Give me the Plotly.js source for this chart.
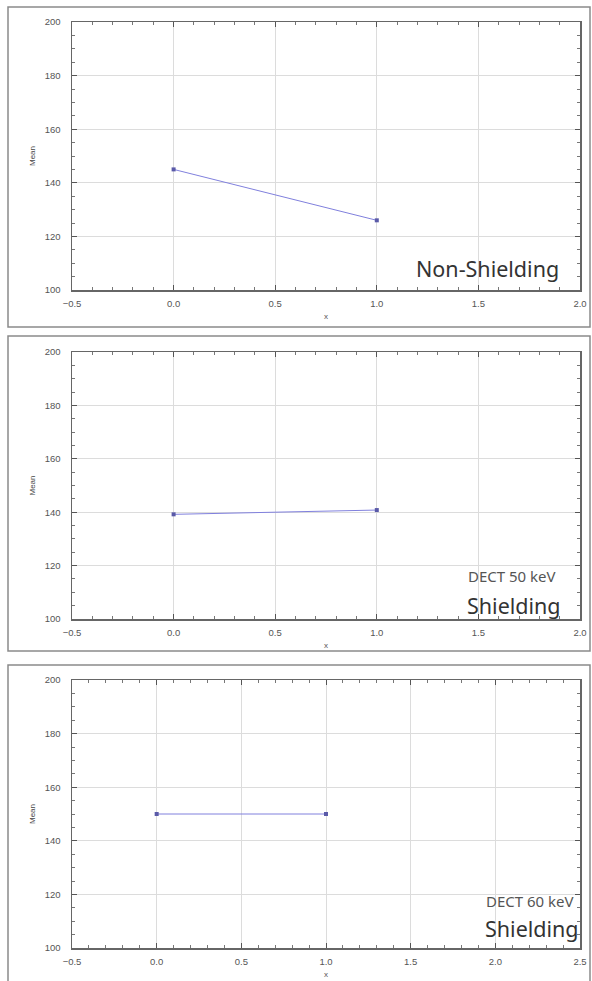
<!DOCTYPE html>
<html>
<head>
<meta charset="utf-8">
<script src="https://cdn.plot.ly/plotly-3.0.1.min.js"></script>
<style>html,body{margin:0;padding:0;background:#fff;}#chart{width:592px;height:981px;}</style>
</head>
<body>
<div id="chart"></div>
<script>
// Data
const xValues = [0, 1];
const nonShieldingMean = [145, 126];
const dect50ShieldingMean = [139.2, 140.8];
const dect60ShieldingMean = [150, 150];
const panelLabels = ["Non-Shielding", "Shielding", "Shielding"];
const energyLabels = ["", "DECT 50 keV", "DECT 60 keV"];
const xRanges = [[-0.5, 2.0], [-0.5, 2.0], [-0.5, 2.5]];
const yRange = [100, 200];

const W = 592, H = 981;
const px = v => v / W;
const py = v => 1 - v / H;

const lineColor = '#8080dd';
const markerColor = '#5a5aa8';

function trace(y, n) {
  return {
    x: xValues, y: y, type: 'scatter', mode: 'lines+markers',
    xaxis: n === 1 ? 'x' : 'x' + n, yaxis: n === 1 ? 'y' : 'y' + n,
    line: {color: lineColor, width: 1},
    marker: {color: markerColor, size: 4, symbol: 'square'},
    showlegend: false, hoverinfo: 'x+y'
  };
}

const tickFont = {family: 'Liberation Sans, Arial, sans-serif', size: 9.5, color: '#555'};

function xaxis(range, n) {
  return {
    range: range, domain: [px(72), px(580)], anchor: n === 1 ? 'y' : 'y' + n,
    dtick: 0.5, tick0: 0, tickformat: '.1f',
    ticks: 'inside', ticklen: 5, tickcolor: '#555', tickwidth: 1,
    minor: {dtick: 0.1, ticks: 'inside', ticklen: 3, tickcolor: '#777', showgrid: false},
    showgrid: true, gridcolor: '#dcdcdc', gridwidth: 1,
    showline: true, linecolor: '#666', linewidth: 1.5, mirror: 'ticks',
    zeroline: false, tickfont: tickFont, ticklabelstandoff: 4,
    title: {text: 'x', font: {family: 'Liberation Sans, Arial, sans-serif', size: 8, color: '#555'}, standoff: 5}
  };
}
function yaxis(top, bottom, n) {
  return {
    range: yRange, domain: [py(bottom), py(top)], anchor: n === 1 ? 'x' : 'x' + n,
    dtick: 20, ticks: 'inside', ticklen: 5, tickcolor: '#555', tickwidth: 1,
    minor: {dtick: 5, ticks: 'inside', ticklen: 3, tickcolor: '#777', showgrid: false},
    showgrid: true, gridcolor: '#dcdcdc', gridwidth: 1,
    showline: true, linecolor: '#666', linewidth: 1.5, mirror: 'ticks',
    zeroline: false, tickfont: tickFont, ticklabelstandoff: 8,
    title: {text: 'Mean', font: {family: 'Liberation Sans, Arial, sans-serif', size: 8, color: '#444'}, standoff: 8}
  };
}

const panels = [
  {top: 22, bottom: 290, frame: [8, 7, 590, 327]},
  {top: 352, bottom: 619, frame: [8, 336, 590, 651]},
  {top: 680, bottom: 948, frame: [8, 665, 590, 985]}
];

const data = [trace(nonShieldingMean, 1), trace(dect50ShieldingMean, 2), trace(dect60ShieldingMean, 3)];

const annFont = 'Noto Sans, Open Sans, sans-serif';
const layout = {
  width: W, height: H, margin: {l: 0, r: 0, t: 0, b: 0},
  paper_bgcolor: '#fff', plot_bgcolor: '#fff',
  xaxis: xaxis(xRanges[0], 1),
  yaxis: yaxis(22, 290, 1),
  xaxis2: xaxis(xRanges[1], 2),
  yaxis2: yaxis(352, 619, 2),
  xaxis3: xaxis(xRanges[2], 3),
  yaxis3: yaxis(680, 948, 3),
  shapes: panels.map(p => ({
    type: 'rect', xref: 'paper', yref: 'paper',
    x0: px(p.frame[0]), x1: px(p.frame[2]), y0: py(p.frame[3]), y1: py(p.frame[1]),
    line: {color: '#8a8a8a', width: 1.5}, fillcolor: 'rgba(0,0,0,0)', layer: 'below'
  })),
  annotations: [
    {xref: 'paper', yref: 'paper', x: px(561), y: py(268), xanchor: 'right', yanchor: 'middle',
     text: panelLabels[0], showarrow: false, font: {family: annFont, size: 21.5, color: '#333'}},
    {xref: 'paper', yref: 'paper', x: px(558), y: py(576), xanchor: 'right', yanchor: 'middle',
     text: energyLabels[1], showarrow: false, font: {family: annFont, size: 15, color: '#555'}},
    {xref: 'paper', yref: 'paper', x: px(563), y: py(605), xanchor: 'right', yanchor: 'middle',
     text: panelLabels[1], showarrow: false, font: {family: annFont, size: 21.5, color: '#333'}},
    {xref: 'paper', yref: 'paper', x: px(576), y: py(901), xanchor: 'right', yanchor: 'middle',
     text: energyLabels[2], showarrow: false, font: {family: annFont, size: 15, color: '#555'}},
    {xref: 'paper', yref: 'paper', x: px(581), y: py(928), xanchor: 'right', yanchor: 'middle',
     text: panelLabels[2], showarrow: false, font: {family: annFont, size: 21.5, color: '#333'}}
  ]
};

Plotly.newPlot('chart', data, layout, {displayModeBar: false, staticPlot: true});
</script>
</body>
</html>
